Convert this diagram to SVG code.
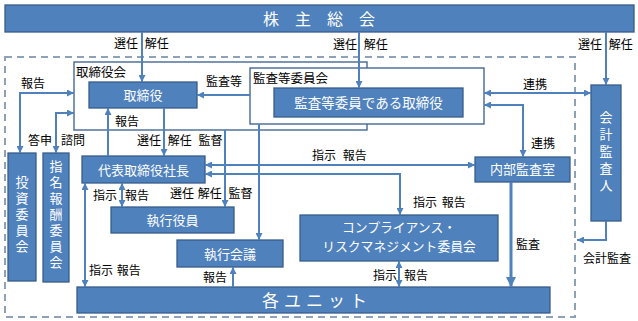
<svg xmlns="http://www.w3.org/2000/svg" width="638" height="321" viewBox="0 0 638 321">
<defs>
<marker id="ah" viewBox="0 0 10 10" refX="10" refY="5" markerUnits="userSpaceOnUse" markerWidth="7" markerHeight="7" orient="auto-start-reverse">
<path d="M0,0 L10,5 L0,10 z" fill="#4F81BD"/>
</marker>
<marker id="ahb" viewBox="0 0 10 10" refX="10" refY="5" markerUnits="userSpaceOnUse" markerWidth="11" markerHeight="10" orient="auto">
<path d="M0,0 L10,5 L0,10 z" fill="#4F81BD"/>
</marker>
</defs>
<style>
text{font-family:"Noto Sans CJK JP","Noto Sans CJK SC",sans-serif;}
.box{fill:#4F81BD;stroke:#385D8A;stroke-width:1.3;}
.frame{fill:#FFFFFF;stroke:#385D8A;stroke-width:1.3;}
.wt{fill:#FFFFFF;font-size:13px;text-anchor:middle;}
.vt{fill:#FFFFFF;font-size:13px;writing-mode:vertical-rl;letter-spacing:3px;}
.lbl{fill:#000000;font-size:12px;}
.ttl{fill:#000000;font-size:12.5px;}
.cn{fill:none;stroke:#4F81BD;stroke-width:2;}
.one{marker-end:url(#ah);}
.two{marker-start:url(#ah);marker-end:url(#ah);}
</style>
<rect x="5" y="57" width="570" height="260" fill="none" stroke="#8FA1B9" stroke-width="2" stroke-dasharray="7 5"/>

<g id="shareholders">
<rect class="box" x="5" y="5" width="629" height="27"/>
<text class="wt" x="319" y="24.5" style="font-size:16px">株　主　総　会</text>
</g>
<g id="board">
<rect class="frame" x="74" y="62" width="293" height="68"/>
<text class="ttl" x="76" y="77">取締役会</text>
</g>
<g id="audit-committee">
<rect class="frame" x="250" y="68" width="234" height="56"/>
<text class="ttl" x="253" y="83">監査等委員会</text>
</g>
<g id="audit-directors">
<rect class="box" x="274" y="88" width="189" height="29"/>
<text class="wt" x="368.5" y="107.5" style="font-size:13.5px">監査等委員である取締役</text>
</g>
<g id="directors">
<rect class="box" x="89" y="82" width="108" height="26"/>
<text class="wt" x="143" y="100">取締役</text>
</g>
<g id="auditor">
<rect class="box" x="591" y="85" width="30" height="136"/>
<text class="vt" x="606" y="111" style="letter-spacing:4px">会計監査人</text>
</g>
<g id="investment-committee">
<rect class="box" x="8" y="153" width="28" height="128"/>
<text class="vt" x="22" y="176">投資委員会</text>
</g>
<g id="nomination-committee">
<rect class="box" x="43" y="153" width="26" height="129"/>
<text class="vt" x="56" y="160">指名報酬委員会</text>
</g>
<g id="president">
<rect class="box" x="82" y="156" width="123" height="27"/>
<text class="wt" x="143.5" y="174.5">代表取締役社長</text>
</g>
<g id="internal-audit">
<rect class="box" x="475" y="157" width="95" height="25"/>
<text class="wt" x="522.5" y="174">内部監査室</text>
</g>
<g id="officers">
<rect class="box" x="111" y="207" width="123" height="26"/>
<text class="wt" x="172.5" y="225">執行役員</text>
</g>
<g id="exec-meeting">
<rect class="box" x="177" y="240" width="106" height="27"/>
<text class="wt" x="230" y="258.5">執行会議</text>
</g>
<g id="compliance">
<rect class="box" x="300" y="215" width="198" height="46"/>
<text class="wt" x="399" y="231.5" style="font-size:12.8px"><tspan x="399" y="231.5">コンプライアンス・</tspan><tspan x="399" y="251">リスクマネジメント委員会</tspan></text>
</g>
<g id="units">
<rect class="box" x="77" y="287" width="473" height="26"/>
<text class="wt" x="317" y="306.5" style="font-size:17px;letter-spacing:5px">各ユニット</text>
</g>

<g id="connectors">
<path class="cn one" d="M142,32 V82"/>
<path class="cn one" d="M359,32 V88"/>
<path class="cn one" d="M606,32 V85"/>
<path class="cn one" d="M250,95 H197"/>
<path class="cn two" d="M484,93 H591"/>
<path class="cn two" d="M523,157 V105 H484"/>
<path class="cn one" d="M164,108 V156"/>
<path class="cn one" d="M108,156 V108"/>
<path class="cn two" d="M20,153 V93 H74"/>
<path class="cn two" d="M56,153 V113 H74"/>
<path class="cn one" d="M225,130 V207"/>
<path class="cn one" d="M259,124 V240"/>
<path class="cn two" d="M205,165 H475"/>
<path class="cn two" d="M205,174 H400 V215"/>
<path class="cn two" d="M122,183 V207"/>
<path class="cn two" d="M85,183 V287"/>
<path class="cn one" d="M233,287 V267"/>
<path class="cn two" d="M399,261 V287"/>
<path class="cn" style="stroke-width:3;marker-end:url(#ahb)" d="M511,182 V287"/>
<path class="cn one" d="M606,221 V240 H577"/>
</g>

<g id="labels">
<text class="lbl" x="114" y="48">選任 <tspan dx="4">解任</tspan></text>
<text class="lbl" x="333" y="49">選任 <tspan dx="4">解任</tspan></text>
<text class="lbl" x="578" y="49">選任 <tspan dx="4">解任</tspan></text>
<text class="lbl" x="206" y="86">監査等</text>
<text class="lbl" x="523" y="89">連携</text>
<text class="lbl" x="531" y="148">連携</text>
<text class="lbl" x="21" y="88">報告</text>
<text class="lbl" x="28" y="145">答申</text>
<text class="lbl" x="61" y="145">諮問</text>
<text class="lbl" x="115" y="126">報告</text>
<text class="lbl" x="137" y="145">選任 <tspan dx="4">解任</tspan> <tspan dx="4">監督</tspan></text>
<text class="lbl" x="170" y="198">選任 <tspan dx="1">解任</tspan> <tspan dx="4">監督</tspan></text>
<text class="lbl" x="312" y="160">指示 <tspan dx="4">報告</tspan></text>
<text class="lbl" x="413" y="207">指示 <tspan dx="2">報告</tspan></text>
<text class="lbl" x="93" y="200">指示</text>
<text class="lbl" x="125" y="200">報告</text>
<text class="lbl" x="89" y="275">指示 <tspan dx="1">報告</tspan></text>
<text class="lbl" x="203" y="282">報告</text>
<text class="lbl" x="373" y="280">指示</text>
<text class="lbl" x="404" y="280">報告</text>
<text class="lbl" x="516" y="249">監査</text>
<text class="lbl" x="583" y="263">会計監査</text>
</g>
</svg>
